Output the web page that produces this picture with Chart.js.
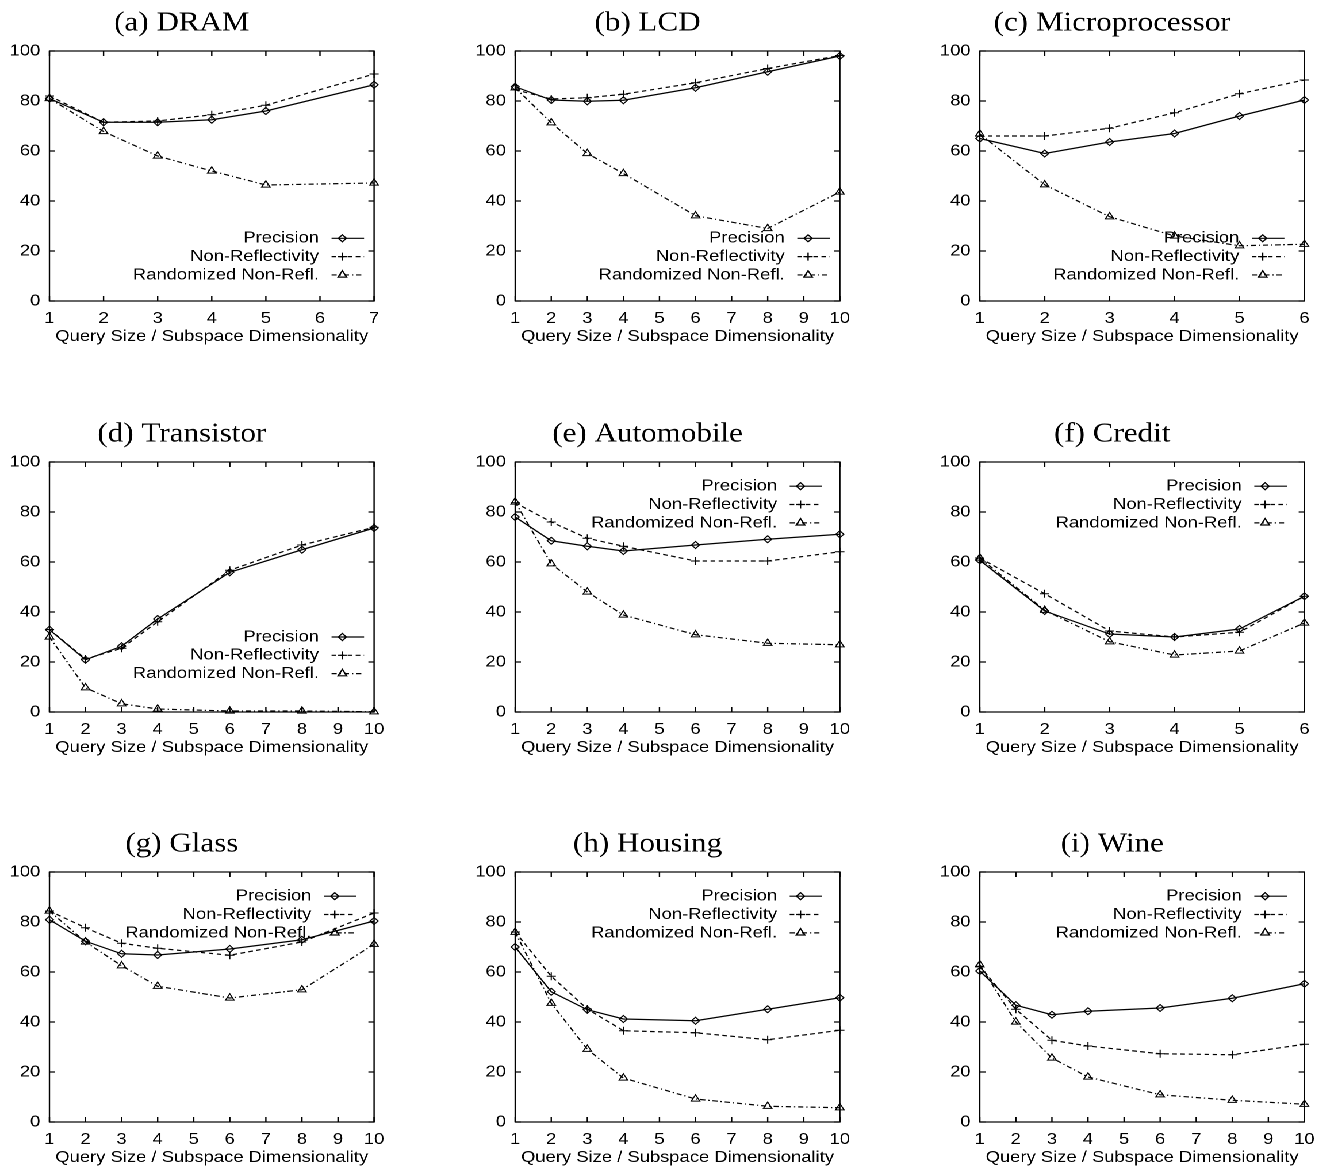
<!DOCTYPE html>
<html lang="en">
<head>
  <meta charset="UTF-8">
  <title>Precision vs Query Size</title>
  <script src="https://cdn.jsdelivr.net/npm/chart.js"></script>
  <style>
    html, body {
      margin: 0;
      padding: 0;
      background: #fff;
      overflow: hidden;
    }
    /* the original figure is stretched horizontally, so the whole page is too */
    #page {
      position: relative;
      width: 1158px;
      height: 1169px;
      transform: scaleX(1.15);
      transform-origin: 0 0;
    }
    #page canvas {
      position: absolute;
    }
  </style>
</head>
<body>
  <div id="page"></div>

  <script>
    // query sizes measured in each experiment
    const xSeven = [1, 2, 3, 4, 5, 7];
    const xSix = [1, 2, 3, 4, 5, 6];
    const xTen = [1, 2, 3, 4, 6, 8, 10];

    const seriesNames = ["Precision", "Non-Reflectivity", "Randomized Non-Refl."];
    const yTicks = [0, 20, 40, 60, 80, 100];
    const axisTitle = "Query Size / Subspace Dimensionality";

    // (a) DRAM
    const dramPrecision = [81, 71.5, 71.5, 72.5, 76, 86.5];
    const dramNonRefl = [82, 71.5, 72, 74.5, 78.3, 90.8];
    const dramRandom = [81, 67.8, 58, 52, 46.4, 47.2];

    // (b) LCD
    const lcdPrecision = [85.7, 80.4, 79.9, 80.3, 85.3, 91.7, 98];
    const lcdNonRefl = [84.5, 80.8, 81.3, 82.7, 87.3, 93, 98.2];
    const lcdRandom = [85.3, 71.3, 59, 51, 34.1, 29, 43.6];

    // (c) Microprocessor
    const microPrecision = [65, 59, 63.6, 67, 74, 80.4];
    const microNonRefl = [66, 66, 69.1, 75.3, 82.9, 88.4];
    const microRandom = [66.8, 46.5, 33.7, 26, 22.1, 22.7];

    // (d) Transistor
    const transPrecision = [32.9, 20.9, 26.3, 37.2, 55.9, 64.9, 73.6];
    const transNonRefl = [33, 21.2, 25.5, 36.1, 56.7, 66.8, 73.9];
    const transRandom = [30, 9.7, 3.3, 1.2, 0.4, 0.4, 0.1];

    // (e) Automobile
    const autoPrecision = [78, 68.5, 66.3, 64.4, 66.8, 69.1, 71.1];
    const autoNonRefl = [83.7, 76, 69.5, 66.3, 60.4, 60.4, 64.1];
    const autoRandom = [84, 59.3, 48, 38.8, 30.9, 27.5, 26.9];

    // (f) Credit
    const creditPrecision = [60.7, 40.4, 31.2, 30, 33.2, 46.3];
    const creditNonRefl = [61.6, 47.3, 32.4, 30, 31.9, 46.3];
    const creditRandom = [61.6, 40.7, 28.1, 22.8, 24.4, 35.6];

    // (g) Glass
    const glassPrecision = [80.9, 72.3, 67.3, 66.8, 69.2, 72.9, 80.4];
    const glassNonRefl = [84.4, 77.7, 71.5, 69.5, 66.7, 72, 83.6];
    const glassRandom = [84.4, 72, 62.5, 54.3, 49.6, 52.9, 71.1];

    // (h) Housing
    const housingPrecision = [70, 52.1, 44.9, 41.2, 40.5, 45.1, 49.7];
    const housingNonRefl = [76, 58.3, 45.2, 36.5, 35.7, 32.9, 36.7];
    const housingRandom = [75.9, 47.5, 29.1, 17.6, 9.2, 6.3, 5.7];

    // (i) Wine
    const winePrecision = [60.4, 46.7, 42.9, 44.3, 45.6, 49.5, 55.3];
    const wineNonRefl = [62.3, 45.1, 32.7, 30.4, 27.3, 26.9, 31.1];
    const wineRandom = [62.9, 40, 25.6, 18, 10.9, 8.7, 7.1];

    // keyTop: first key row below the plot top, keyGap: space right of the key
    const panels = [
      { title: "(a) DRAM", xs: xSeven, xMax: 7, series: [dramPrecision, dramNonRefl, dramRandom], keyTop: 187.3, keyGap: 8.7 },
      { title: "(b) LCD", xs: xTen, xMax: 10, series: [lcdPrecision, lcdNonRefl, lcdRandom], keyTop: 187.3, keyGap: 8.7 },
      { title: "(c) Microprocessor", xs: xSix, xMax: 6, series: [microPrecision, microNonRefl, microRandom], keyTop: 187.3, keyGap: 17.4 },
      { title: "(d) Transistor", xs: xTen, xMax: 10, series: [transPrecision, transNonRefl, transRandom], keyTop: 175, keyGap: 8.7 },
      { title: "(e) Automobile", xs: xTen, xMax: 10, series: [autoPrecision, autoNonRefl, autoRandom], keyTop: 24.2, keyGap: 15.3 },
      { title: "(f) Credit", xs: xSix, xMax: 6, series: [creditPrecision, creditNonRefl, creditRandom], keyTop: 24.2, keyGap: 15.3 },
      { title: "(g) Glass", xs: xTen, xMax: 10, series: [glassPrecision, glassNonRefl, glassRandom], keyTop: 24.2, keyGap: 15.3 },
      { title: "(h) Housing", xs: xTen, xMax: 10, series: [housingPrecision, housingNonRefl, housingRandom], keyTop: 24.2, keyGap: 15.3 },
      { title: "(i) Wine", xs: xTen, xMax: 10, series: [winePrecision, wineNonRefl, wineRandom], keyTop: 24.2, keyGap: 15.3 },
    ];

    const lineStyles = [
      { dash: [], point: "rectRot", radius: 3.5 },
      { dash: [4, 3], point: "cross", radius: 4 },
      { dash: [4.5, 2.5, 1.2, 2.5], point: "triangle", radius: 4.3 },
    ];

    const colLeft = [0, 404.6, 809.2];
    const rowTop = [0, 410.7, 820.7];
    const sansFont = { family: "Liberation Sans, Arial, sans-serif", size: 16, lineHeight: 1.2 };

    // gnuplot look: closed border, inward ticks on all sides, title and key
    const gnuFrame = {
      id: "gnuFrame",
      afterDatasetsDraw(chart, args, opts) {
        const { ctx, chartArea: a, scales } = chart;
        const x = scales.x, y = scales.y;
        ctx.save();
        ctx.strokeStyle = "#000";
        ctx.fillStyle = "#000";
        ctx.lineWidth = 1.2;
        ctx.strokeRect(a.left, a.top, a.width, a.height);

        ctx.beginPath();
        x.ticks.forEach((t) => {
          const px = x.getPixelForValue(t.value);
          ctx.moveTo(px, a.bottom);
          ctx.lineTo(px, a.bottom - 5);
          ctx.moveTo(px, a.top);
          ctx.lineTo(px, a.top + 5);
        });
        y.ticks.forEach((t) => {
          const py = y.getPixelForValue(t.value);
          ctx.moveTo(a.left, py);
          ctx.lineTo(a.left + 5, py);
          ctx.moveTo(a.right, py);
          ctx.lineTo(a.right - 5, py);
        });
        ctx.stroke();

        ctx.font = '27px "Liberation Serif", "Times New Roman", serif';
        ctx.textAlign = "center";
        ctx.textBaseline = "alphabetic";
        ctx.fillText(opts.title, (a.left + a.right) / 2 - 26, a.top - 20.5);

        ctx.font = '16px "Liberation Sans", Arial, sans-serif';
        ctx.textAlign = "right";
        ctx.textBaseline = "middle";
        chart.data.datasets.forEach((ds, i) => {
          const ky = a.top + opts.keyTop + i * 18.33;
          const x1 = a.right - opts.keyGap;
          const x0 = x1 - 28.3;
          ctx.fillStyle = "#000";
          ctx.fillText(ds.label, x0 - 10.9, ky);
          ctx.setLineDash(ds.borderDash || []);
          ctx.beginPath();
          ctx.moveTo(x0, ky);
          ctx.lineTo(x1, ky);
          ctx.stroke();
          ctx.setLineDash([]);
          ctx.fillStyle = "rgba(0,0,0,0)";
          Chart.helpers.drawPoint(ctx, { pointStyle: ds.pointStyle, radius: ds.pointRadius, borderWidth: 1, rotation: 0 }, x0 + 9.4, ky);
        });
        ctx.restore();
      },
    };

    panels.forEach((p, idx) => {
      const canvas = document.createElement("canvas");
      canvas.width = 345;
      canvas.height = 350;
      canvas.style.left = colLeft[idx % 3] + "px";
      canvas.style.top = rowTop[Math.floor(idx / 3)] + "px";
      document.getElementById("page").appendChild(canvas);

      const datasets = p.series.map((vals, s) => ({
        label: seriesNames[s],
        data: p.xs.map((xv, i) => ({ x: xv, y: vals[i] })),
        borderColor: "#000",
        borderWidth: 1.2,
        borderDash: lineStyles[s].dash,
        pointStyle: lineStyles[s].point,
        pointRadius: lineStyles[s].radius,
        pointBorderWidth: 1,
        pointBorderColor: "#000",
        pointBackgroundColor: "rgba(0,0,0,0)",
        fill: false,
        tension: 0,
        clip: false,
      }));

      new Chart(canvas.getContext("2d"), {
        type: "line",
        data: { datasets },
        options: {
          responsive: false,
          animation: false,
          devicePixelRatio: 2,
          events: [],
          layout: { padding: { left: 0, right: 19.7, top: 51, bottom: 0 } },
          plugins: {
            legend: { display: false },
            tooltip: { enabled: false },
            gnuFrame: { title: p.title, keyTop: p.keyTop, keyGap: p.keyGap },
          },
          scales: {
            x: {
              type: "linear",
              min: 1,
              max: p.xMax,
              grid: { display: false, drawTicks: false },
              border: { display: false },
              ticks: { stepSize: 1, autoSkip: false, maxRotation: 0, padding: 8, color: "#000", font: sansFont },
              title: { display: true, text: axisTitle, color: "#000", font: sansFont, padding: { top: 0, bottom: 4 } },
              afterFit(scale) { scale.height = 49; },
            },
            y: {
              type: "linear",
              min: 0,
              max: 100,
              grid: { display: false, drawTicks: false },
              border: { display: false },
              ticks: { padding: 8, color: "#000", font: sansFont },
              afterBuildTicks(scale) { scale.ticks = yTicks.map((v) => ({ value: v })); },
              afterFit(scale) { scale.width = 43; },
            },
          },
        },
        plugins: [gnuFrame],
      });
    });
  </script>
</body>
</html>
